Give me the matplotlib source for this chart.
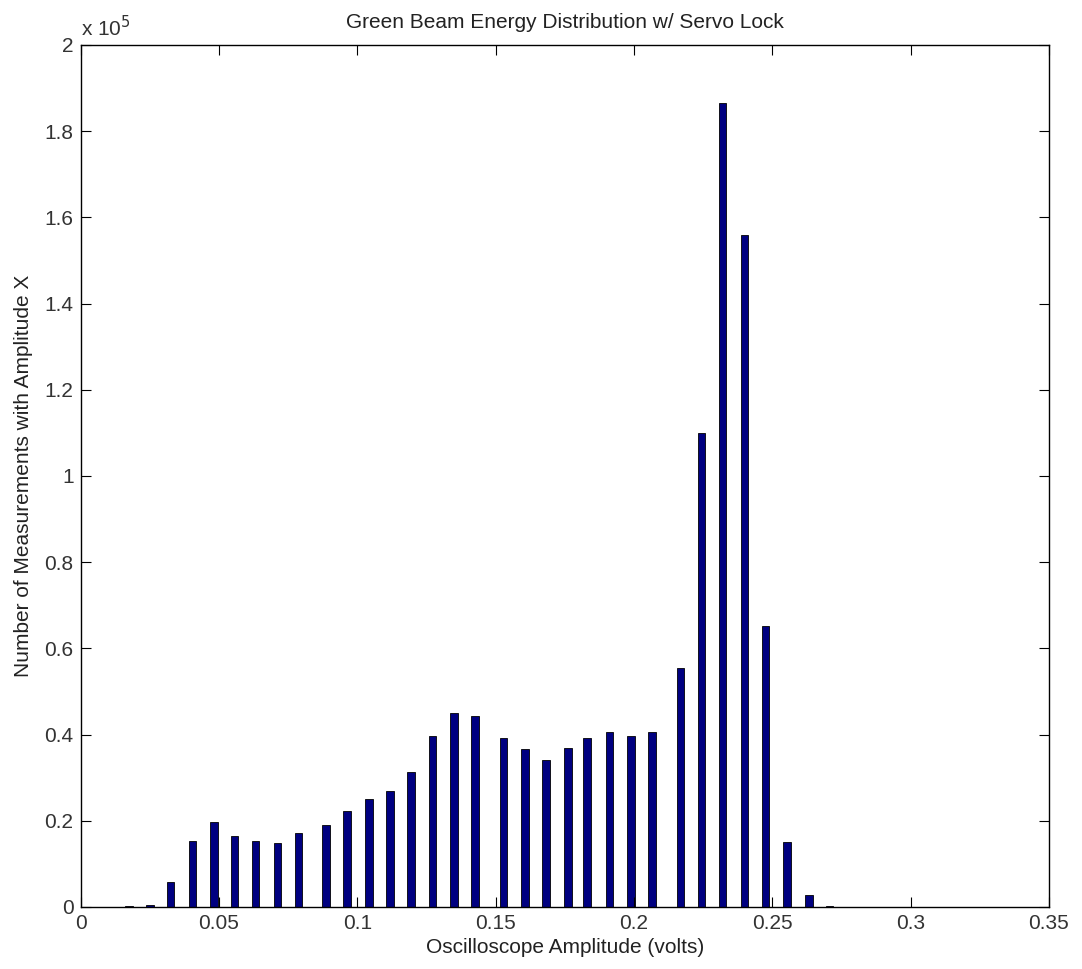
import numpy as np
import matplotlib
matplotlib.use('Agg')
import matplotlib.pyplot as plt
from matplotlib.ticker import FuncFormatter

# bin centres (volts) and counts
centers = [0.0175, 0.0251, 0.0326, 0.0404, 0.0482, 0.0556, 0.0633, 0.0711,
           0.0788, 0.0887, 0.0963, 0.1043, 0.1119, 0.1195, 0.1273, 0.1350,
           0.1426, 0.1529, 0.1607, 0.1683, 0.1762, 0.1831, 0.1912, 0.1989,
           0.2065, 0.2168, 0.2244, 0.2321, 0.2399, 0.2475, 0.2553, 0.2632,
           0.2707]
counts = [230, 560, 5900, 15200, 19700, 16400, 15200, 14900,
          17100, 19000, 22300, 25000, 27000, 31300, 39700, 45000,
          44400, 39100, 36600, 34200, 36900, 39100, 40600, 39700,
          40600, 55400, 109900, 186600, 155900, 65200, 15100, 2700,
          300]

xticks = [0, 0.05, 0.1, 0.15, 0.2, 0.25, 0.3, 0.35]
yticks = [0, 20000, 40000, 60000, 80000, 100000, 120000, 140000, 160000, 180000, 200000]

plt.rcParams['font.family'] = ['Liberation Sans', 'DejaVu Sans']

fig = plt.figure(figsize=(10.82, 9.69), dpi=100)
ax = fig.add_axes([0.0744, 0.064, 0.8951, 0.8896])

ax.bar(centers, counts, width=0.0027, color='#000080', edgecolor='black', linewidth=0.6)

ax.set_xlim(0, 0.35)
ax.set_ylim(0, 200000)
ax.set_xticks(xticks)
ax.set_yticks(yticks)
ax.xaxis.set_major_formatter(FuncFormatter(lambda v, p: '%g' % v))
ax.yaxis.set_major_formatter(FuncFormatter(lambda v, p: '%g' % (v / 1e5)))
ax.tick_params(direction='in', length=7, width=0.8, top=True, right=True,
               labelsize=15, labelcolor='#333333', pad=5)
for s in ax.spines.values():
    s.set_linewidth(1.0)

ax.text(0.0, 1.006, r'x 10$^5$', transform=ax.transAxes, fontsize=15,
        color='#333333', ha='left', va='bottom')

ax.set_title('Green Beam Energy Distribution w/ Servo Lock', fontsize=15,
             color='#222222', pad=12)
ax.set_xlabel('Oscilloscope Amplitude (volts)', fontsize=15, color='#222222', labelpad=4)
ax.set_ylabel('Number of Measurements with Amplitude X', fontsize=15, color='#222222', labelpad=8)

fig.savefig('out.png', dpi=100)
